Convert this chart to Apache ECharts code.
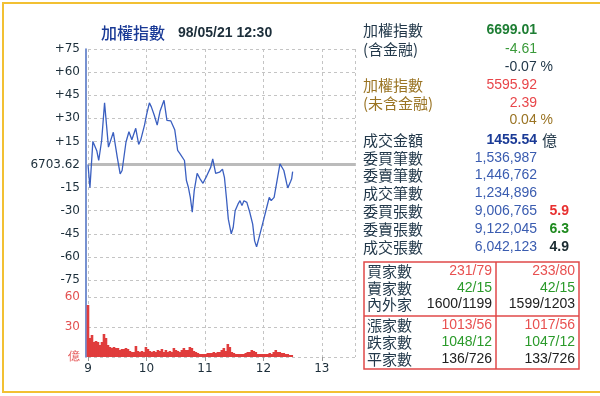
<!DOCTYPE html>
<html><head><meta charset="utf-8">
<script src="https://cdn.jsdelivr.net/npm/echarts@6/dist/echarts.min.js"></script>
<style>html,body{margin:0;padding:0;background:#fff}#c{width:600px;height:396px}</style>
</head><body><div id="c"></div>
<script>
// ---- data ----
const PREV_CLOSE = '6703.62';
const xTickLabels = ['9', '10', '11', '12', '13'];
// minutes after 09:00 and change vs previous close
const lineTimes = [0,2,5,9,11,14,17,21,26,30,33,35,39,42,45,49,52,54,58,60,63,65,68,71,74,78,81,85,89,92,94,99,101,103,105,107,109,112,115,118,120,122,126,128,131,135,138,140,142,144,147,149,151,154,156,158,160,163,166,169,171,173,176,180,183,186,188,191,194,197,201,204,205,208,209,210];
const lineValues = [0,-15,15,9,2.6,15.6,40,11.3,20.9,4.8,-6.1,-3.9,14.6,21.3,16.1,23.5,13,15.7,25.6,32,40,37.4,32,25.6,34.8,41.7,28.7,28.3,22.6,9.1,7.4,2.6,-10.4,-14.8,-21.3,-31,-17,-5.7,-9.3,-12.2,-11.5,-7.2,-1.7,3.7,-5.7,-5,-3,-8.3,-21.3,-35.5,-45,-40.9,-30,-25.6,-23.5,-26.7,-23.5,-24.6,-31,-38.7,-49.6,-53.5,-46.3,-36.5,-28.9,-21.3,-23.5,-21.3,-10.4,0.4,-3.9,-12.6,-15.2,-10.9,-9.3,-4.6];
// turnover (億) per ~2 minutes
const volValues = [52,19,22,15,16,15,12,15,23,19,12,10,9,10,9,9,7,8,8,9,8,6,5,5,11,6,5,6,5,10,8,6,5,6,5,7,6,8,5,7,5,6,5,9,7,6,5,7,9,7,7,10,9,
  6,5,4,3,3,3,3,4,4,4,5,4,5,5,7,9,6,13,10,5,4,3,3,3,3,3,4,5,5,7,6,5,3,3,3,3,3,3,4,3,5,7,5,5,4,4,3,3,2,2];
const VOL_STEP = 2.05; // minutes per volume bar

const panelLabels = ['成交金額','委買筆數','委賣筆數','成交筆數','委買張數','委賣張數','成交張數'];
const panelValues = ['1455.54','1,536,987','1,446,762','1,234,896','9,006,765','9,122,045','6,042,123'];
const ratioValues = ['5.9','6.3','4.9'];
const tableLabels = [['買家數','賣家數','內外家'],['漲家數','跌家數','平家數']];
const tableLeft = [['231/79','42/15','1600/1199'],['1013/56','1048/12','136/726']];
const tableRight = [['233/80','42/15','1599/1203'],['1017/56','1047/12','133/726']];

// ---- chart ----
const CJK = '"Noto Sans CJK TC"';
const NUM = '"Liberation Sans"';
const gridC = '#c4c4c4';
const labelC = '#22384a';

function T(x, y, text, fill, font, align) {
  return { type: 'text', silent: true, style: { x: x, y: y, text: text, fill: fill, font: font,
    textAlign: align || 'left', align: align || 'left', textVerticalAlign: 'middle', verticalAlign: 'middle' } };
}
const g = [];
g.push({ type: 'rect', silent: true, shape: { x: 3, y: 3, width: 640, height: 389 }, style: { fill: 'none', stroke: '#f2c033', lineWidth: 2 } });
g.push(T(101, 33, '加權指數', '#1a3a96', '500 16px ' + CJK));
g.push(T(178, 33, '98/05/21 12:30', '#1c2e3a', 'bold 14px ' + NUM));
// top block
g.push(T(363, 30, '加權指數', labelC, '15px ' + CJK));
g.push(T(537, 30, '6699.01', '#1e7e34', 'bold 14px ' + NUM, 'right'));
g.push(T(363, 49, '(含金融)', labelC, '15px ' + CJK));
g.push(T(537, 49, '-4.61', '#3a9a3a', '14px ' + NUM, 'right'));
g.push(T(553, 67, '-0.07 %', labelC, '14px ' + NUM, 'right'));
g.push(T(363, 85, '加權指數', '#9a7424', '15px ' + CJK));
g.push(T(537, 85, '5595.92', '#e8464a', '14px ' + NUM, 'right'));
g.push(T(363, 103, '(未含金融)', '#9a7424', '15px ' + CJK));
g.push(T(537, 103, '2.39', '#e8464a', '14px ' + NUM, 'right'));
g.push(T(553, 120, '0.04 %', '#9a7424', '14px ' + NUM, 'right'));
const rowY = [140, 158, 175.5, 193, 211, 229, 247];
panelLabels.forEach((l, i) => {
  g.push(T(363, rowY[i], l, labelC, '15px ' + CJK));
  g.push(T(537, rowY[i], panelValues[i], i === 0 ? '#1a3a96' : '#3a5cb0', (i === 0 ? 'bold ' : '') + '14px ' + NUM, 'right'));
});
g.push(T(542, rowY[0], '億', labelC, '15px ' + CJK));
const ratioColors = ['#e83030', '#1e8a1e', '#1a2a30'];
ratioValues.forEach((v, i) => g.push(T(569, rowY[4 + i], v, ratioColors[i], 'bold 14px ' + NUM, 'right')));
// table
g.push({ type: 'rect', silent: true, shape: { x: 364, y: 262, width: 215, height: 107 }, style: { fill: 'none', stroke: '#e04848', lineWidth: 1.5 } });
g.push({ type: 'line', silent: true, shape: { x1: 496, y1: 262, x2: 496, y2: 369 }, style: { stroke: '#e04848', lineWidth: 1.5 } });
g.push({ type: 'line', silent: true, shape: { x1: 364, y1: 316, x2: 579, y2: 316 }, style: { stroke: '#e04848', lineWidth: 1.5 } });
const tRows = [[271, 288, 304.5], [325.5, 342.5, 359]];
const tColors = ['#e85050', '#2a9a2a', '#202020'];
tableLabels.forEach((blk, b) => blk.forEach((l, r) => {
  const y = tRows[b][r];
  g.push(T(367, y, l, labelC, '15px ' + CJK));
  g.push(T(492, y, tableLeft[b][r], tColors[r], '14px ' + NUM, 'right'));
  g.push(T(575, y, tableRight[b][r], tColors[r], '14px ' + NUM, 'right'));
}));

const XMAX = 274;
const chart = echarts.init(document.getElementById('c'));
chart.setOption({
  animation: false,
  grid: [
    { left: 88, top: 49, width: 267, height: 231 },
    { left: 88, top: 297, width: 267, height: 60 },
    { left: 88, top: 49, width: 267, height: 308 }
  ],
  xAxis: [
    { gridIndex: 0, type: 'value', min: 0, max: XMAX, interval: 60, axisLine: { show: false }, axisTick: { show: false }, axisLabel: { show: false }, splitLine: { show: false } },
    { gridIndex: 1, type: 'value', min: 0, max: XMAX, interval: 60, axisLine: { show: false },
      axisTick: { show: true, length: 4, lineStyle: { color: '#999' } },
      axisLabel: { show: true, margin: 6, showMaxLabel: false, color: '#1c2e3a', fontFamily: 'DejaVu Sans', fontSize: 12,
        formatter: v => xTickLabels[Math.round(v / 60)] || '' },
      splitLine: { show: false } },
    { gridIndex: 2, type: 'value', min: 0, max: XMAX, interval: 60, axisLine: { show: false }, axisTick: { show: false }, axisLabel: { show: false },
      splitLine: { show: true, lineStyle: { color: gridC, type: [3, 3], width: 1 } } }
  ],
  yAxis: [
    { gridIndex: 0, type: 'value', min: -75, max: 75, interval: 15, axisLine: { show: false }, axisTick: { show: false },
      axisLabel: { margin: 8, color: '#1c2e3a', fontFamily: 'DejaVu Sans', fontSize: 12,
        formatter: v => v === 0 ? PREV_CLOSE : (v > 0 ? '+' + v : '' + v) },
      splitLine: { show: true, lineStyle: { color: gridC, type: [3, 3] } } },
    { gridIndex: 1, type: 'value', min: 0, max: 60, interval: 30, axisLine: { show: false }, axisTick: { show: false },
      axisLabel: { margin: 8, color: '#e35050', fontFamily: 'DejaVu Sans', fontSize: 12,
        formatter: v => v === 0 ? '億' : '' + v },
      splitLine: { show: true, lineStyle: { color: gridC, type: [3, 3] } } },
    { gridIndex: 2, type: 'value', min: 0, max: 1, axisLine: { show: true, onZero: false, lineStyle: { color: '#4a6cc0', width: 1.5 } }, offset: 2,
      axisTick: { show: false }, axisLabel: { show: false }, splitLine: { show: false } }
  ],
  series: [
    { type: 'line', xAxisIndex: 0, yAxisIndex: 0, data: lineTimes.map((t, i) => [t, lineValues[i]]), showSymbol: false,
      lineStyle: { color: '#3a5fc0', width: 1.3 }, z: 5,
      markLine: { silent: true, symbol: 'none', label: { show: false }, lineStyle: { color: '#bbbbbb', width: 3, type: 'solid' }, data: [{ yAxis: 0 }], z: 2 } },
    { type: 'bar', xAxisIndex: 1, yAxisIndex: 1, data: volValues.map((v, i) => [i * VOL_STEP, v]), barWidth: 2.6,
      itemStyle: { color: '#e03c3c' } }
  ],
  graphic: g
});
</script></body></html>
